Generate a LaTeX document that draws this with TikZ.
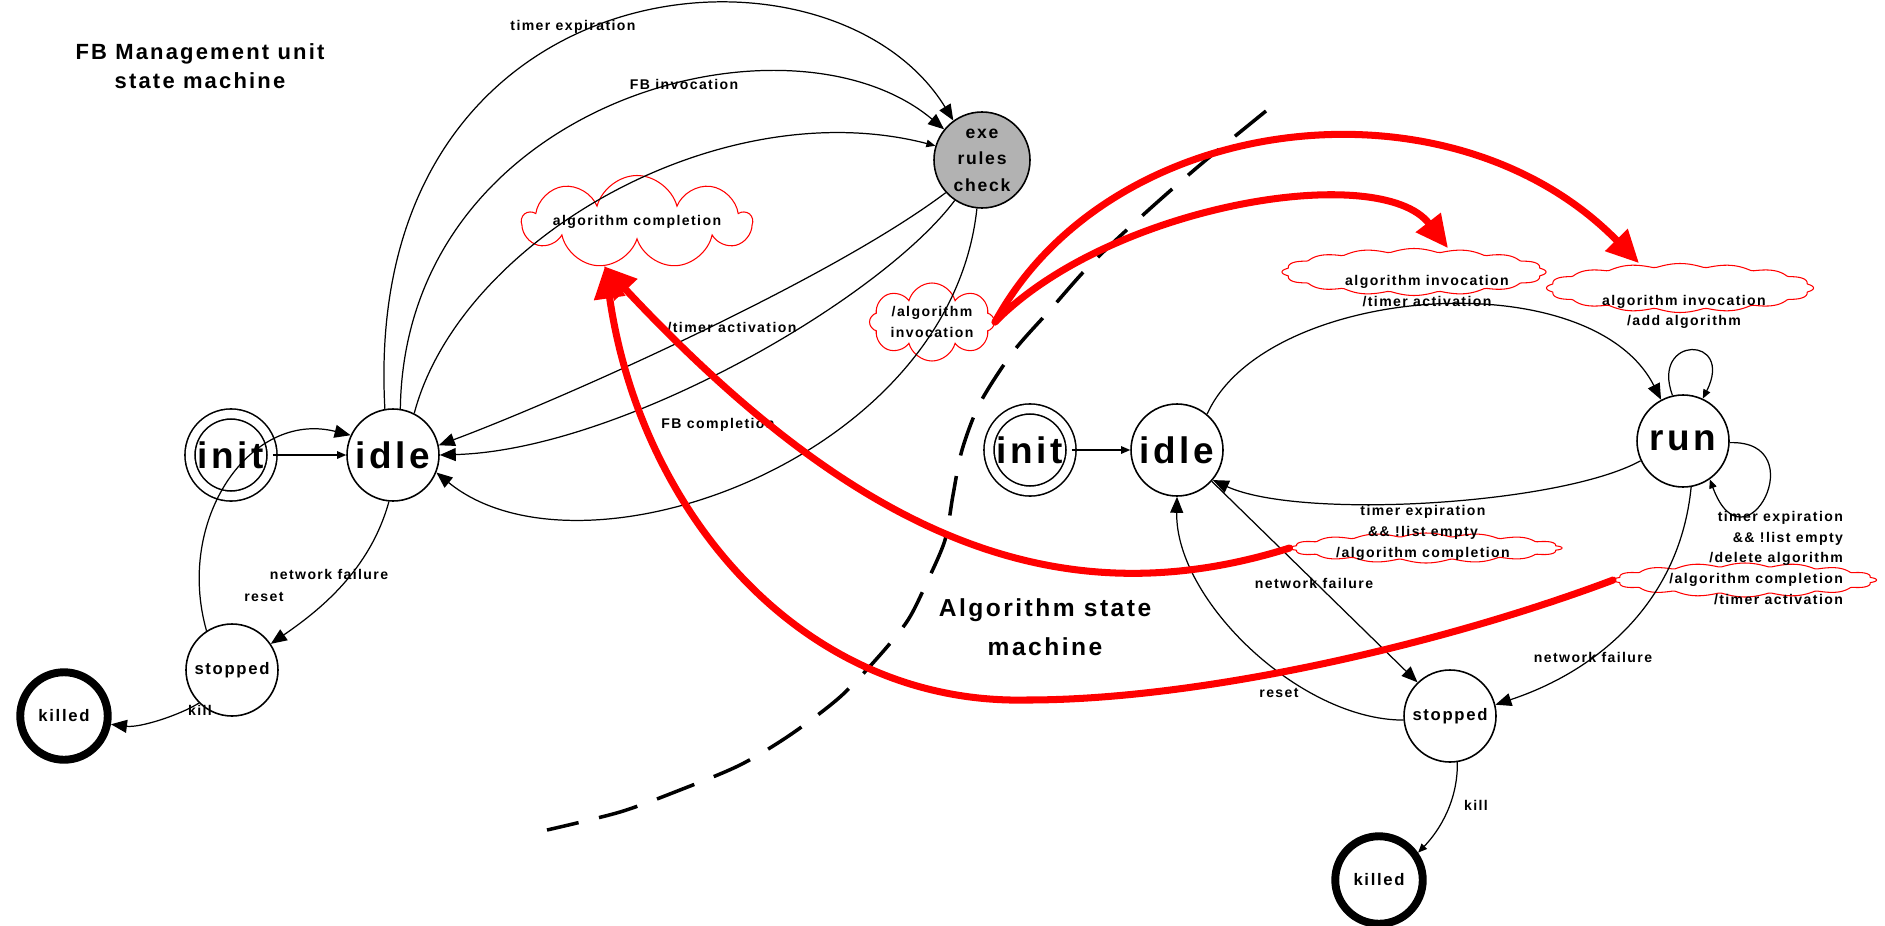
\documentclass[tikz,border=0pt]{standalone}
\usepackage{fontspec}
\setmainfont{Liberation Sans}[LetterSpace=10]
\usepackage{tikz}
\usetikzlibrary{
  positioning,
  shapes.symbols,
  shapes.geometric,
  arrows.meta
}
\newcommand{\lblfont}{\fontsize{8}{11.8}\selectfont\bfseries}
\newcommand{\wavycloud}[4]{\draw[wavy] plot ({#1+(#3+4*abs(cos(8*\t)))*cos(\t)},{#2+(#4+4*abs(cos(8*\t)))*sin(\t)});}

\begin{document}
\begin{tikzpicture}[x=0.2mm,y=-0.2mm,
        state/.style={circle,draw,line width=0.9pt,minimum size=1.84cm,inner sep=0pt,font=\fontsize{9.5}{12}\selectfont\bfseries},
        bigstate/.style={state,font=\fontsize{21}{24}\selectfont\bfseries},
        initstate/.style={bigstate,minimum size=1.64cm,double,double distance=4.8pt},
        endstate/.style={state,line width=4.5pt,minimum size=1.75cm},
        exestate/.style={state,minimum size=1.92cm,fill=black!30,align=center,font=\fontsize{10}{15}\selectfont\bfseries},
        hilite/.style={cloud,draw=red,line width=0.6pt,cloud puffs=#1,cloud ignores aspect,inner sep=0pt},
        flathilite/.style={ellipse,inner sep=0pt},
        wavy/.style={red,line width=0.6pt,domain=0:360,samples=241,variable=\t},
        lbl/.style={font=\lblfont,inner sep=1pt},
        trans/.style={line width=0.7pt,-{Triangle[length=3.2mm,width=2.6mm]}},
        smalltrans/.style={line width=0.7pt,-{Triangle[length=1.8mm,width=1.5mm]}},
        redtrans/.style={red,line width=4pt,line cap=round,-{Triangle[length=6.5mm,width=6mm]}},
        border/.style={line width=2pt,dash pattern=on 8mm off 4.2mm}]
            \useasboundingbox (0,0) rectangle (1885,925);
            \draw[border] plot[smooth] coordinates {(1266,111) (1200,165) (1143,215) (1090,265) (1050,310) (1013,352) (980,403) (962,450) (953,495) (945,540) (927,582) (908,620) (880,655) (840,697) (790,735) (740,765) (680,790) (620,812) (547,830)};
            \node[lbl,align=center,font=\fontsize{12.5}{16.5}\selectfont\bfseries] (titleF) at (200,66) {FB Management unit\\state machine};
            \node[initstate] (initF) at (231,455) {init};
            \node[bigstate] (idleF) at (393,455) {idle};
            \node[state] (stopF) at (232,670) {stopped};
            \node[endstate] (killF) at (64,716) {killed};
            \node[exestate] (exe) at (982,160) {exe\\rules\\check};
            \node[hilite=9,minimum width=4.3cm,minimum height=1.86cm,font=\lblfont] (cldDone) at (637,222) {algorithm completion};
            \node[hilite=8,minimum width=2.5cm,minimum height=1.56cm,font=\lblfont,align=center] (cldInvoke) at (932,322) {/algorithm\\invocation};
            \node[lbl] (lTimer) at (573,27) {timer expiration};
            \node[lbl] (lInvoke) at (684,84) {FB invocation};
            \node[lbl] (lAct) at (732,328) {/timer activation};
            \node[lbl] (lComp) at (718,425) {FB completion};
            \node[lbl] (lNetF) at (329,574) {network failure};
            \node[lbl] (lResetF) at (264,597) {reset};
            \node[lbl] (lKillF) at (200,710) {kill};
            \draw[trans] (idleF.100) .. controls (360,-40) and (830,-80) .. (exe.126);
            \draw[trans] (idleF.81) .. controls (405,100) and (790,0) .. (exe.141);
            \draw[smalltrans] (idleF.63) .. controls (460,240) and (720,90) .. (exe.163);
            \draw[trans] (exe.222) .. controls (830,280) and (560,400) .. (idleF.12);
            \draw[trans] (exe.236) .. controls (880,300) and (620,450) .. (idleF.0);
            \draw[trans] (exe.264) .. controls (950,460) and (580,590) .. (idleF.-22);
            \draw[smalltrans] (initF) -- (idleF);
            \draw[trans] (stopF.123) .. controls (175,520) and (250,410) .. (idleF.155);
            \draw[trans] (idleF.265) .. controls (370,570) and (320,610) .. (stopF.34);
            \draw[trans] (stopF.225) .. controls (180,715) and (140,728) .. (killF.-10);
            \node[initstate] (initA) at (1030,450) {init};
            \node[bigstate] (idleA) at (1177,450) {idle};
            \node[bigstate] (runA) at (1683,441) {run};
            \node[state] (stopA) at (1450,716) {stopped};
            \node[endstate] (killA) at (1379,880) {killed};
            \node[lbl,align=center,font=\fontsize{14}{22}\selectfont\bfseries] (titleA) at (1045,627) {Algorithm state\\machine};
            \node[flathilite,minimum width=5.28cm,minimum height=0.94cm] (cldTimer) at (1414,272) {};
            \node[flathilite,minimum width=5.34cm,minimum height=0.98cm] (cldAdd) at (1680,288) {};
            \node[flathilite,minimum width=5.44cm,minimum height=0.6cm] (cldEmpty) at (1426,548) {};
            \node[flathilite,minimum width=5.26cm,minimum height=0.68cm] (cldDel) at (1745,580) {};
            \wavycloud{1414}{272}{128}{19.5}
            \wavycloud{1680}{288}{129.5}{20.5}
            \wavycloud{1426}{548}{132}{11}
            \wavycloud{1745}{580}{127.5}{13}
            \node[lbl,align=center] (lRun) at (1427,291) {algorithm invocation\\/timer activation};
            \node[lbl,align=center] (lAdd) at (1684,312) {algorithm invocation\\/add algorithm};
            \node[lbl,align=center] (lEmpty) at (1423,533) {timer expiration\\\&\& !list empty\\/algorithm completion};
            \node[lbl,align=right,anchor=east] (lDel) at (1845,558) {timer expiration\\\&\& !list empty\\/delete algorithm\\/algorithm completion\\/timer activation};
            \node[lbl] (lNetA) at (1314,583) {network failure};
            \node[lbl] (lResetA) at (1279,693) {reset};
            \node[lbl] (lNetB) at (1593,657) {network failure};
            \node[lbl] (lKillA) at (1476,805) {kill};
            \draw[smalltrans] (initA) -- (idleA);
            \draw[trans] (idleA.50) .. controls (1265,285) and (1590,260) .. (runA.118);
            \draw[trans] (runA.205) .. controls (1560,505) and (1300,520) .. (idleA.-40);
            \draw[smalltrans] (runA.103) .. controls (1650,335) and (1735,335) .. (runA.65);
            \draw[smalltrans] (runA.-2) .. controls (1815,440) and (1745,575) .. (runA.-55);
            \draw[trans] (idleA.-42) -- (stopA.134);
            \draw[trans] (stopA.185) .. controls (1300,720) and (1175,600) .. (idleA.270);
            \draw[trans] (runA.280) .. controls (1680,600) and (1600,670) .. (stopA.14);
            \draw[smalltrans] (stopA.279) .. controls (1458,800) and (1440,830) .. (killA.35);
            \draw[redtrans] (cldInvoke.east) .. controls (1110,110) and (1450,70) .. ([xshift=-8.2mm]cldAdd.north);
            \draw[redtrans] (cldInvoke.east) .. controls (1110,205) and (1380,160) .. ([xshift=6.8mm]cldTimer.north);
            \draw[redtrans] (cldEmpty.west) .. controls (1060,620) and (860,540) .. (cldDone.233);
            \draw[redtrans] (cldDel.west) .. controls (1440,645) and (1200,700) .. (1027,700) .. controls (800,705) and (640,510) .. (cldDone.234);
        \end{tikzpicture}
\end{document}
